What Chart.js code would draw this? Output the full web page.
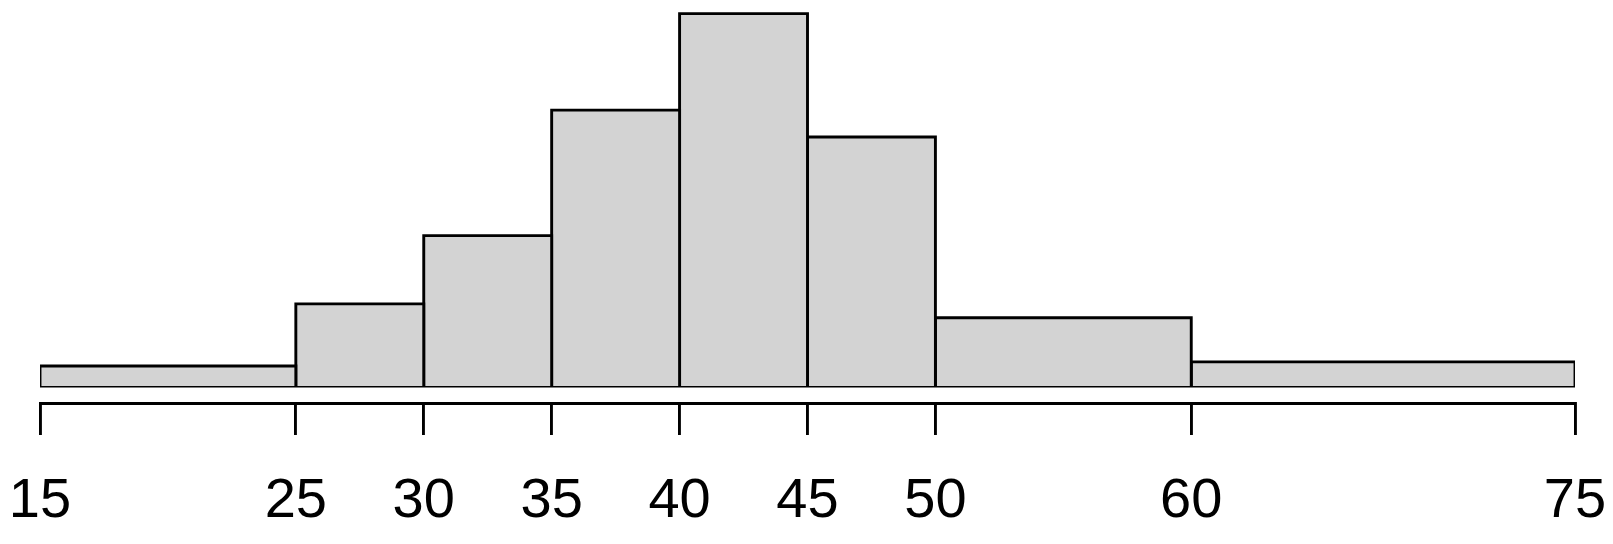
<!DOCTYPE html>
<html>
<head>
<meta charset="utf-8">
<script src="https://cdn.jsdelivr.net/npm/chart.js@4/dist/chart.umd.min.js"></script>
<style>
  html, body { margin: 0; padding: 0; background: #ffffff; }
  #wrap { width: 1613px; height: 544px; }
</style>
</head>
<body>
<div id="wrap"><canvas id="c" width="1613" height="544"></canvas></div>
<script>
// Histogram bin edges (x) and bar heights (density)
const breaks = [15, 25, 30, 35, 40, 45, 50, 60, 75];
const densities = [0.0029, 0.0119, 0.0218, 0.0400, 0.0540, 0.0361, 0.0099, 0.0035];
const tickLabels = ['15', '25', '30', '35', '40', '45', '50', '60', '75'];

// axis range
const xMin = 15, xMax = 75;
const yMin = -0.00247, yMax = 0.05597;

const barSets = densities.map((d, i) => ({
  type: 'line',
  data: [
    { x: breaks[i], y: 0 },
    { x: breaks[i], y: d },
    { x: breaks[i + 1], y: d },
    { x: breaks[i + 1], y: 0 }
  ],
  borderColor: '#000000',
  borderWidth: 2.9,
  backgroundColor: '#D3D3D3',
  fill: 'origin',
  pointRadius: 0,
  pointHoverRadius: 0,
  tension: 0,
  borderJoinStyle: 'miter'
}));

// bottom edge of the bars
const baseSet = {
  type: 'line',
  data: [{ x: breaks[0], y: 0 }, { x: breaks[breaks.length - 1], y: 0 }],
  borderColor: '#000000',
  borderWidth: 2.9,
  fill: false,
  pointRadius: 0,
  pointHoverRadius: 0
};

new Chart(document.getElementById('c'), {
  type: 'line',
  data: { datasets: [...barSets, baseSet] },
  options: {
    responsive: false,
    animation: false,
    events: [],
    layout: { padding: { left: 40, right: 38, top: 0, bottom: 0 } },
    plugins: { legend: { display: false }, tooltip: { enabled: false } },
    scales: {
      x: {
        type: 'linear',
        min: xMin,
        max: xMax,
        afterBuildTicks: (scale) => { scale.ticks = breaks.map(v => ({ value: v })); },
        afterFit: (scale) => { scale.height = 141; scale.paddingLeft = 0; scale.paddingRight = 0; },
        border: { display: true, color: '#000000', width: 2.9 },
        grid: { display: true, drawOnChartArea: false, drawTicks: true, tickLength: 32, color: '#000000', lineWidth: 2.9 },
        ticks: {
          autoSkip: false,
          maxRotation: 0,
          padding: 33,
          color: '#000000',
          font: { family: '"Liberation Sans", Arial, sans-serif', size: 56 },
          callback: (v) => tickLabels[breaks.indexOf(v)]
        }
      },
      y: {
        type: 'linear',
        display: false,
        min: yMin,
        max: yMax
      }
    }
  }
});
</script>
</body>
</html>
